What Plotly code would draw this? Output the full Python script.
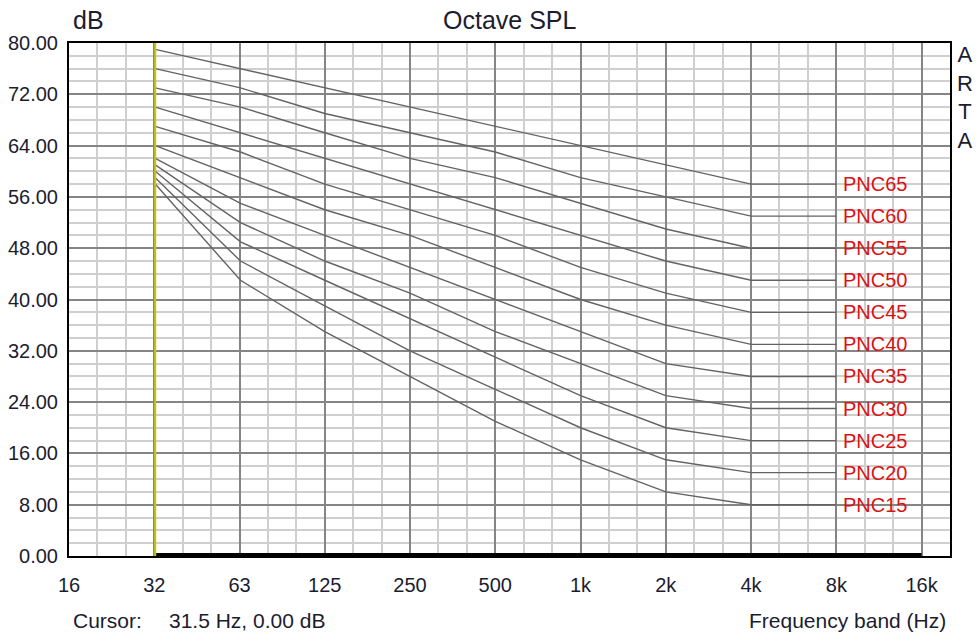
import math
import plotly.graph_objects as go

# ---- data -------------------------------------------------------------
band_hz = [31.5, 63, 125, 250, 500, 1000, 2000, 4000, 8000]
pnc_names = ["PNC15", "PNC20", "PNC25", "PNC30", "PNC35", "PNC40",
             "PNC45", "PNC50", "PNC55", "PNC60", "PNC65"]
pnc15 = [58, 43, 35, 28, 21, 15, 10, 8, 8]
pnc20 = [59, 46, 39, 32, 26, 20, 15, 13, 13]
pnc25 = [60, 49, 43, 37, 31, 25, 20, 18, 18]
pnc30 = [61, 52, 46, 41, 35, 30, 25, 23, 23]
pnc35 = [62, 55, 50, 45, 40, 35, 30, 28, 28]
pnc40 = [64, 59, 54, 50, 45, 40, 36, 33, 33]
pnc45 = [67, 63, 58, 54, 50, 45, 41, 38, 38]
pnc50 = [70, 66, 62, 58, 54, 50, 46, 43, 43]
pnc55 = [73, 70, 66, 62, 59, 55, 51, 48, 48]
pnc60 = [76, 73, 69, 66, 63, 59, 56, 53, 53]
pnc65 = [79, 76, 73, 70, 67, 64, 61, 58, 58]
pnc_curves = [pnc15, pnc20, pnc25, pnc30, pnc35, pnc40,
              pnc45, pnc50, pnc55, pnc60, pnc65]

spectrum_hz = [31.5, 63, 125, 250, 500, 1000, 2000, 4000, 8000, 16000]
spectrum_db = [0, 0, 0, 0, 0, 0, 0, 0, 0, 0]

cursor_hz = 31.5
cursor_db = 0.0

tick_hz = [15.625, 31.25, 62.5, 125, 250, 500, 1000, 2000, 4000, 8000, 16000]
tick_text = ["16", "32", "63", "125", "250", "500", "1k", "2k", "4k", "8k", "16k"]
third_octave_hz = [1000 * 2 ** (k / 3) for k in range(-18, 14) if k % 3 != 0]

y_ticks = [0, 8, 16, 24, 32, 40, 48, 56, 64, 72, 80]

# ---- figure ----------------------------------------------------------
FONT = "Liberation Sans, Arial, sans-serif"
TXT = "#1c1c30"
fig = go.Figure()

for name, vals in zip(pnc_names, pnc_curves):
    fig.add_trace(go.Scatter(x=band_hz, y=vals, mode="lines", name=name,
                             line=dict(color="#636363", width=1.4),
                             showlegend=False, hoverinfo="x+y+name"))
    fig.add_annotation(x=math.log10(band_hz[-1]), y=vals[-1], xref="x", yref="y",
                       text=name, showarrow=False, xanchor="left", yanchor="middle",
                       xshift=5, font=dict(family=FONT, size=20, color="#dd1111"))

fig.add_trace(go.Scatter(x=spectrum_hz, y=spectrum_db, mode="lines",
                         line=dict(color="black", width=6), showlegend=False))
fig.add_trace(go.Scatter(x=[cursor_hz, cursor_hz], y=[0, 80], mode="lines",
                         line=dict(color="#c8c800", width=2), showlegend=False))

fig.update_xaxes(type="log",
                 range=[math.log10(tick_hz[0]), math.log10(16000 * 2 ** (1 / 3))],
                 tickmode="array", tickvals=tick_hz, ticktext=tick_text,
                 showgrid=True, gridcolor="#858585", gridwidth=1.6,
                 minor=dict(tickmode="array", tickvals=third_octave_hz,
                            showgrid=True, gridcolor="#cfcfcf", gridwidth=1.6),
                 showline=True, linecolor="black", linewidth=2, mirror=True,
                 ticks="", ticklabelstandoff=10, zeroline=False, automargin=False,
                 tickfont=dict(family=FONT, size=20, color=TXT))
fig.update_yaxes(range=[0, 80], tickmode="array", tickvals=y_ticks,
                 tickformat=".2f",
                 showgrid=True, gridcolor="#858585", gridwidth=1.6,
                 minor=dict(dtick=2, showgrid=True, gridcolor="#cfcfcf", gridwidth=1.6),
                 showline=True, linecolor="black", linewidth=2, mirror=True,
                 ticks="", ticklabelstandoff=5, zeroline=False, automargin=False,
                 tickfont=dict(family=FONT, size=20, color=TXT))

W, H = 979, 637
L, R, T, B = 69, 29, 43, 81
pw, ph = W - L - R, H - T - B


def px(x):
    return (x - L) / pw


def py(y):
    return (H - B - y) / ph


def text(x, y, s, size, xanchor="left", color=TXT):
    fig.add_annotation(x=px(x), y=py(y), xref="paper", yref="paper", text=s,
                       showarrow=False, xanchor=xanchor, yanchor="middle",
                       font=dict(family=FONT, size=size, color=color))


text(509, 20, "Octave SPL", 25, "center")
text(71, 20, "dB", 25)
text(965, 97, "A<br>R<br>T<br>A", 22, "center")
text(948, 620, "Frequency band (Hz)", 21, "right")
text(71, 620, "Cursor:", 21)
text(167, 620, f"{cursor_hz} Hz, {cursor_db:.2f} dB", 21)

fig.update_layout(width=W, height=H, margin=dict(l=L, r=R, t=T, b=B),
                  plot_bgcolor="white", paper_bgcolor="white",
                  showlegend=False)

fig.write_html("out.html", config={"displayModeBar": False},
               post_script="document.body.style.margin='0px';document.body.style.overflow='hidden';")
